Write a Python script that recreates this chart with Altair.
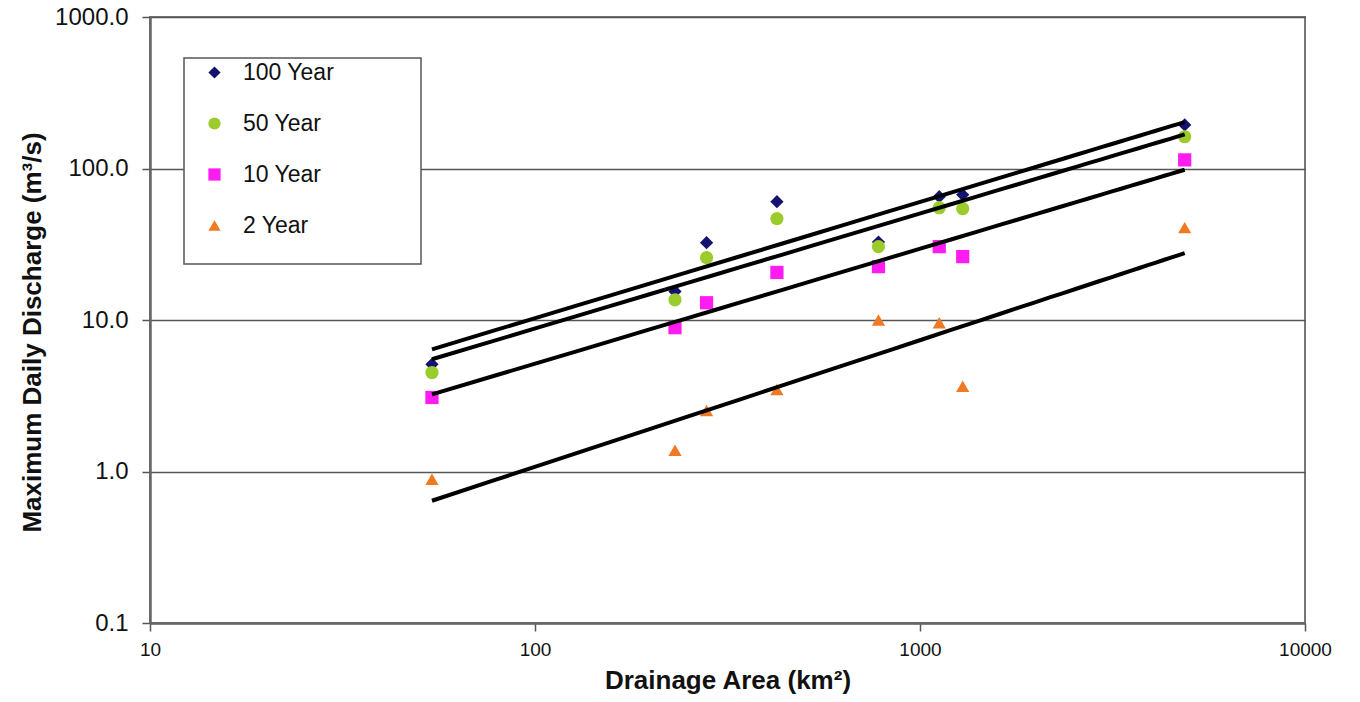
import altair as alt
import pandas as pd

# Drainage area of each gauged basin (km²)
area = [54, 231, 279, 425, 780, 1122, 1291, 4870]

# Maximum daily discharge (m³/s) by return period
q100 = [5.1, 15.4, 32.4, 60.4, 32.7, 65.2, 67.1, 194]
q50 = [4.5, 13.6, 25.8, 46.7, 30.5, 55.1, 54.3, 162]
q10 = [3.08, 8.9, 13.0, 20.6, 22.5, 30.5, 26.2, 114]
q2 = [0.89, 1.38, 2.53, 3.48, 10.0, 9.6, 3.65, 40.7]

series_names = ["100 Year", "50 Year", "10 Year", "2 Year"]
series_values = [q100, q50, q10, q2]
colors = ["#141470", "#9ccc2c", "#ff1cf0", "#f07a24"]
shapes = ["diamond", "circle", "square", "triangle-up"]

x_ticks = [10, 100, 1000, 10000]
y_ticks = [0.1, 1, 10, 100, 1000]

rows = []
for name, vals in zip(series_names, series_values):
    for a, q in zip(area, vals):
        rows.append({"series": name, "area": a, "discharge": q})
df = pd.DataFrame(rows)

x_scale = alt.Scale(type="log", domain=[10, 10000], nice=False)
y_scale = alt.Scale(type="log", domain=[0.1, 1000], nice=False)

font = "Liberation Sans, Arial, sans-serif"

x_axis = alt.Axis(
    values=x_ticks, format="d", title="Drainage Area (km²)", grid=False,
    labelFont=font, labelFontSize=19, labelColor="#111", labelPadding=9,
    labelFlush=False,
    titleFont=font, titleFontSize=26, titleFontWeight="bold", titleColor="#111",
    titleY=44,
    domainColor="#666", domainWidth=2.5, tickColor="#555", tickWidth=1.5, tickSize=8,
)
y_axis = alt.Axis(
    values=y_ticks, format=".1f", title="Maximum Daily Discharge (m³/s)",
    grid=True, gridColor="#555", gridWidth=1.5,
    labelFont=font, labelFontSize=24, labelColor="#111", labelPadding=14,
    labelFlush=False,
    titleFont=font, titleFontSize=26, titleFontWeight="bold", titleColor="#111",
    titleX=-105, titleY=315,
    domainColor="#666", domainWidth=2.5, tickColor="#555", tickWidth=1.5, tickSize=8,
)

legend = alt.Legend(
    title=None, orient="none", legendX=53, legendY=44, direction="vertical",
    labelFont=font, labelFontSize=23, labelColor="#111", labelOffset=17,
    symbolSize=150, symbolStrokeWidth=0, symbolOpacity=1, rowPadding=27, padding=0,
)

base = alt.Chart(df)

# white legend panel with a grey frame, covering the gridline behind it
box = alt.Chart(alt.Data(values=[{}])).mark_rect(
    fill="white", stroke="#555", strokeWidth=1.5
).encode(x=alt.value(34), x2=alt.value(271), y=alt.value(41), y2=alt.value(247))

points = base.mark_point(filled=True, opacity=1, size=175).encode(
    x=alt.X("area:Q", scale=x_scale, axis=x_axis),
    y=alt.Y("discharge:Q", scale=y_scale, axis=y_axis),
    color=alt.Color("series:N", scale=alt.Scale(domain=series_names, range=colors), legend=legend),
    shape=alt.Shape("series:N", scale=alt.Scale(domain=series_names, range=shapes), legend=legend),
)

# power-law trend line fitted to each return period
trends = base.transform_regression(
    "area", "discharge", groupby=["series"], method="pow"
).mark_line(color="black", strokeWidth=4).encode(
    x=alt.X("area:Q", scale=x_scale),
    y=alt.Y("discharge:Q", scale=y_scale),
    detail="series:N",
)

chart = alt.layer(box, points, trends).properties(
    width=1155, height=606,
    autosize=alt.AutoSizeParams(type="none"),
    padding={"left": 150, "top": 17, "right": 55, "bottom": 79},
    background="white",
).configure_view(stroke="#777", strokeWidth=2)

chart.save("out.html", embed_options={"renderer": "svg", "actions": False})
